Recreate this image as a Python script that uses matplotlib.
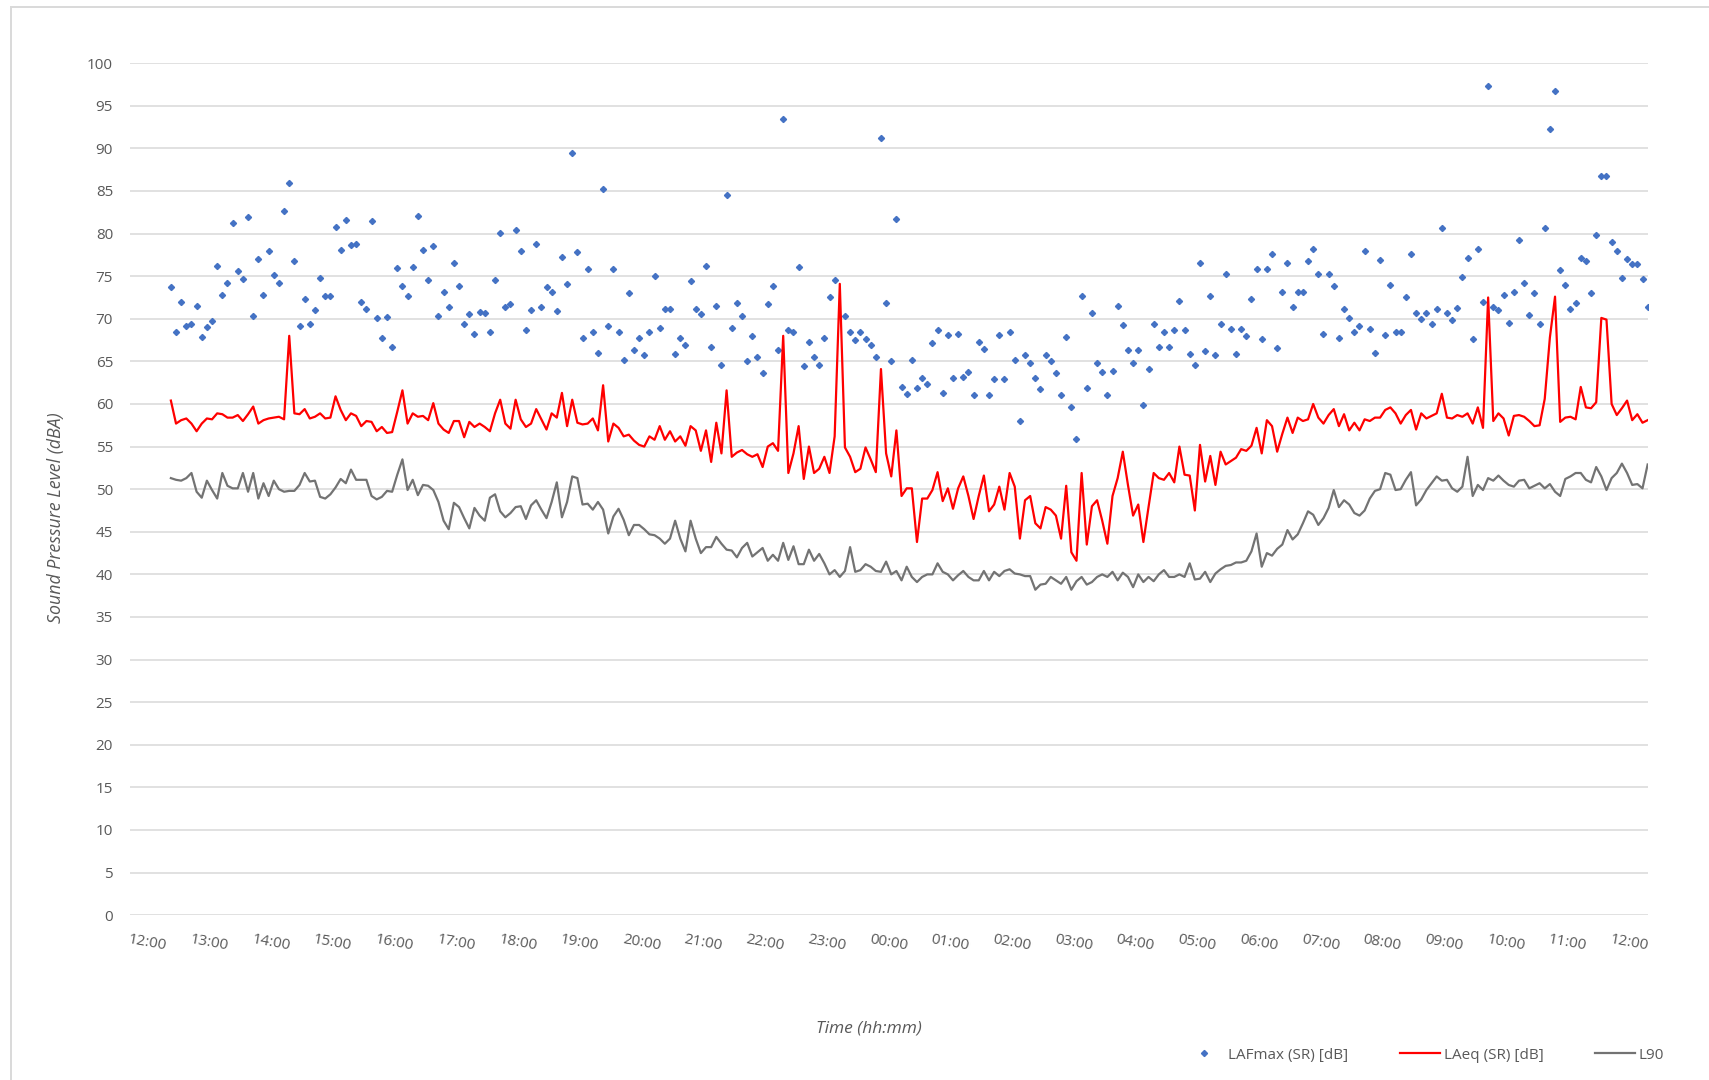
import numpy as np
import pandas as pd
import matplotlib
matplotlib.use("Agg")
import matplotlib.pyplot as plt
import matplotlib.dates as mdates
from matplotlib.patches import Rectangle

# 5-minute readings, one row = one hour
laf_max = [
    73.7, 68.4, 72.0, 69.2, 69.4, 71.5, 67.9, 69.0, 69.7, 76.2, 72.8, 74.2,
    81.2, 75.6, 74.7, 81.9, 70.3, 77.0, 72.8, 77.9, 75.1, 74.2, 82.6, 85.9,
    76.8, 69.2, 72.3, 69.4, 71.0, 74.8, 72.7, 72.7, 80.8, 78.1, 81.6, 78.7,
    78.8, 72.0, 71.1, 81.5, 70.1, 67.8, 70.2, 66.7, 76.0, 73.9, 72.7, 76.1,
    82.1, 78.1, 74.6, 78.6, 70.3, 73.2, 71.4, 76.5, 73.9, 69.4, 70.6, 68.2,
    70.8, 70.7, 68.4, 74.6, 80.1, 71.4, 71.7, 80.4, 77.9, 68.7, 71.0, 78.8,
    71.4, 73.7, 73.1, 70.9, 77.2, 74.1, 89.5, 77.8, 67.8, 75.8, 68.5, 66.0,
    85.2, 69.2, 75.8, 68.5, 65.2, 73.0, 66.3, 67.7, 65.8, 68.5, 75.0, 68.9,
    71.1, 71.1, 65.9, 67.7, 66.9, 74.4, 71.1, 70.6, 76.2, 66.7, 71.5, 64.6,
    84.5, 68.9, 71.8, 70.3, 65.1, 68.0, 65.5, 63.6, 71.7, 73.8, 66.3, 93.5,
    68.7, 68.4, 76.1, 64.5, 67.3, 65.5, 64.6, 67.7, 72.6, 74.6, np.nan, 70.3,
    68.5, 67.5, 68.5, 67.6, 66.9, 65.5, 91.2, 71.9, 65.1, 81.7, 62.0, 61.2,
    65.2, 61.9, 63.0, 62.4, 67.2, 68.7, 61.3, 68.1, 63.0, 68.2, 63.2, 63.8,
    61.0, 67.3, 66.4, 61.1, 62.9, 68.1, 62.9, 68.5, 65.2, 58.0, 65.8, 64.8,
    63.1, 61.8, 65.7, 65.0, 63.6, 61.0, 67.9, 59.7, 55.9, 72.7, 61.9, 70.7,
    64.8, 63.8, 61.0, 63.9, 71.5, 69.3, 66.3, 64.8, 66.3, 59.9, 64.1, 69.4,
    66.7, 68.4, 66.7, 68.7, 72.1, 68.7, 65.9, 64.6, 76.5, 66.2, 72.7, 65.7,
    69.4, 75.2, 68.8, 65.9, 68.8, 68.0, 72.3, 75.9, 67.6, 75.8, 77.6, 66.6,
    73.2, 76.5, 71.4, 73.2, 73.2, 76.8, 78.2, 75.3, 68.2, 75.3, 73.8, 67.8,
    71.2, 70.1, 68.4, 69.1, 77.9, 68.8, 66.0, 76.9, 68.1, 74.0, 68.5, 68.5,
    72.6, 77.6, 70.7, 70.0, 70.7, 69.4, 71.1, 80.7, 70.7, 69.9, 71.3, 74.9,
    77.1, 67.6, 78.2, 72.0, 97.3, 71.4, 71.0, 72.8, 69.5, 73.2, 79.2, 74.2,
    70.4, 73.0, 69.4, 80.6, 92.3, 96.7, 75.7, 74.0, 71.2, 71.8, 77.1, 76.8,
    73.0, 79.8, 86.8, 86.8, 79.0, 77.9, 74.8, 77.0, 76.4, 76.4, 74.7, 71.4,
]

laeq = [
    60.4, 57.7, 58.1, 58.3, 57.7, 56.8, 57.7, 58.3, 58.2, 58.9, 58.8, 58.4,
    58.4, 58.7, 58.0, 58.8, 59.7, 57.7, 58.1, 58.3, 58.4, 58.5, 58.2, 68.0,
    58.9, 58.8, 59.4, 58.3, 58.5, 58.9, 58.3, 58.4, 60.9, 59.3, 58.1, 58.9,
    58.6, 57.4, 58.0, 57.9, 56.8, 57.3, 56.6, 56.7, 59.1, 61.6, 57.7, 58.9,
    58.5, 58.6, 58.1, 60.1, 57.7, 57.0, 56.6, 58.0, 58.0, 56.1, 57.9, 57.3,
    57.7, 57.3, 56.8, 58.9, 60.5, 57.7, 57.1, 60.5, 58.2, 57.3, 57.7, 59.4,
    58.2, 57.0, 58.9, 58.4, 61.3, 57.4, 60.5, 57.8, 57.6, 57.7, 58.3, 56.9,
    62.2, 55.6, 57.7, 57.2, 56.2, 56.4, 55.7, 55.2, 55.0, 56.2, 55.8, 57.4,
    55.8, 56.8, 55.6, 56.2, 55.1, 57.4, 56.9, 54.5, 56.9, 53.2, 57.8, 54.2,
    61.6, 53.8, 54.3, 54.6, 54.1, 53.8, 54.1, 52.6, 55.0, 55.4, 54.5, 68.0,
    51.9, 54.2, 57.4, 51.2, 55.0, 51.9, 52.4, 53.8, 51.9, 56.2, 74.1, 54.9,
    53.8, 52.0, 52.4, 54.9, 53.5, 52.0, 64.1, 54.2, 51.5, 56.9, 49.2, 50.1,
    50.1, 43.8, 48.9, 48.9, 49.9, 52.0, 48.6, 50.1, 47.7, 50.1, 51.5, 49.2,
    46.5, 49.2, 51.6, 47.4, 48.2, 50.3, 47.6, 51.9, 50.3, 44.2, 48.7, 49.2,
    46.0, 45.4, 47.9, 47.6, 46.9, 44.2, 50.4, 42.6, 41.6, 51.9, 43.5, 48.0,
    48.7, 46.3, 43.6, 49.2, 51.3, 54.4, 50.5, 46.9, 48.2, 43.8, 47.9, 51.9,
    51.3, 51.1, 51.9, 50.8, 55.0, 51.7, 51.6, 47.5, 55.2, 50.9, 53.9, 50.5,
    54.4, 52.9, 53.3, 53.7, 54.7, 54.5, 55.1, 57.2, 54.2, 58.1, 57.4, 54.4,
    56.5, 58.4, 56.6, 58.4, 58.0, 58.2, 60.0, 58.4, 57.7, 58.7, 59.4, 57.4,
    58.8, 56.9, 57.8, 56.9, 58.2, 58.0, 58.4, 58.4, 59.3, 59.6, 58.9, 57.7,
    58.7, 59.3, 57.0, 58.9, 58.3, 58.6, 58.9, 61.2, 58.4, 58.3, 58.7, 58.5,
    58.9, 57.7, 59.6, 57.2, 72.5, 58.0, 58.9, 58.3, 56.3, 58.6, 58.7, 58.5,
    58.0, 57.4, 57.5, 60.6, 67.8, 72.6, 57.9, 58.4, 58.5, 58.2, 62.0, 59.6,
    59.5, 60.2, 70.1, 69.9, 60.0, 58.7, 59.5, 60.4, 58.1, 58.8, 57.8, 58.1,
]

l90 = [
    51.3, 51.1, 51.0, 51.3, 51.9, 49.7, 49.0, 51.0, 49.9, 48.9, 51.9, 50.4,
    50.1, 50.1, 51.9, 49.7, 51.9, 48.9, 50.7, 49.2, 51.0, 50.0, 49.7, 49.8,
    49.8, 50.5, 51.9, 50.9, 51.0, 49.1, 48.9, 49.4, 50.2, 51.2, 50.7, 52.3,
    51.1, 51.1, 51.1, 49.2, 48.8, 49.1, 49.8, 49.7, 51.7, 53.5, 49.9, 51.1,
    49.3, 50.5, 50.4, 49.9, 48.5, 46.3, 45.3, 48.4, 47.9, 46.6, 45.4, 47.8,
    46.9, 46.3, 49.0, 49.4, 47.4, 46.7, 47.2, 47.9, 48.0, 46.5, 48.1, 48.7,
    47.6, 46.6, 48.5, 50.8, 46.7, 48.5, 51.5, 51.3, 48.2, 48.3, 47.6, 48.5,
    47.6, 44.8, 46.8, 47.7, 46.4, 44.6, 45.8, 45.8, 45.3, 44.7, 44.6, 44.2,
    43.6, 44.2, 46.3, 44.2, 42.7, 46.3, 44.2, 42.5, 43.2, 43.2, 44.4, 43.6,
    42.9, 42.8, 42.0, 43.1, 43.7, 42.1, 42.6, 43.1, 41.6, 42.3, 41.6, 43.7,
    41.7, 43.3, 41.2, 41.2, 42.9, 41.6, 42.4, 41.3, 40.0, 40.5, 39.7, 40.4,
    43.2, 40.3, 40.5, 41.2, 40.9, 40.4, 40.3, 41.5, 40.0, 40.4, 39.3, 40.9,
    39.7, 39.1, 39.7, 40.0, 40.0, 41.3, 40.3, 40.0, 39.3, 39.9, 40.4, 39.7,
    39.3, 39.3, 40.4, 39.3, 40.3, 39.8, 40.4, 40.6, 40.1, 40.0, 39.8, 39.8,
    38.2, 38.8, 38.9, 39.7, 39.3, 38.9, 39.7, 38.2, 39.2, 39.7, 38.8, 39.1,
    39.7, 40.0, 39.7, 40.3, 39.3, 40.2, 39.7, 38.5, 40.0, 39.1, 39.7, 39.2,
    40.0, 40.5, 39.7, 39.7, 40.0, 39.7, 41.3, 39.4, 39.5, 40.3, 39.1, 40.1,
    40.6, 41.0, 41.1, 41.4, 41.4, 41.6, 42.7, 44.8, 40.9, 42.5, 42.2, 43.0,
    43.5, 45.2, 44.1, 44.7, 46.0, 47.4, 47.0, 45.8, 46.6, 47.8, 49.9, 47.9,
    48.7, 48.2, 47.2, 46.9, 47.5, 48.9, 49.8, 50.0, 51.9, 51.7, 49.9, 50.0,
    51.1, 52.0, 48.1, 48.8, 49.9, 50.7, 51.5, 51.0, 51.1, 50.1, 49.7, 50.3,
    53.8, 49.2, 50.5, 49.9, 51.3, 51.0, 51.6, 51.0, 50.5, 50.3, 51.0, 51.1,
    50.1, 50.4, 50.7, 50.1, 50.6, 49.7, 49.2, 51.2, 51.5, 51.9, 51.9, 51.1,
    50.8, 52.6, 51.5, 49.9, 51.3, 51.9, 53.0, 51.9, 50.5, 50.6, 50.1, 52.9,
]

times = pd.date_range("2021-06-01 12:40", periods=len(laeq), freq="5min")
hours = pd.date_range("2021-06-01 12:00", "2021-06-02 12:00", freq="1h")

grey_txt = "#595959"
plt.rcParams["font.family"] = ["Open Sans", "DejaVu Sans"]

fig = plt.figure(figsize=(17.09, 10.80), dpi=100)
ax = fig.add_axes([0.0759, 0.1526, 0.8882, 0.7889])

ax.plot(times, laf_max, linestyle="none", marker="D", markersize=3.1,
        color="#4472C4", label="LAFmax (SR) [dB]", zorder=2)
ax.plot(times, laeq, color="#FF0000", linewidth=1.6,
        label="LAeq (SR) [dB]", zorder=3)
ax.plot(times, l90, color="#737373", linewidth=1.6, label="L90", zorder=4)

ax.set_ylim(0, 100)
ax.set_yticks(np.arange(0, 101, 5))
ax.set_xlim(pd.Timestamp("2021-06-01 12:00"), pd.Timestamp("2021-06-02 12:35"))
ax.set_xticks(hours)
ax.xaxis.set_major_formatter(mdates.DateFormatter("%H:%M"))

ax.yaxis.grid(True, color="#D9D9D9", linewidth=1.1)
ax.set_axisbelow(True)
for s in ax.spines.values():
    s.set_visible(False)
ax.tick_params(axis="both", length=0, labelsize=11, labelcolor=grey_txt)
ax.tick_params(axis="y", pad=12)
ax.tick_params(axis="x", pad=12)
plt.setp(ax.get_xticklabels(), rotation=-10, ha="left", va="top",
         rotation_mode="anchor")

fig.text(0.0325, 0.5204, "Sound Pressure Level (dBA)", rotation=90,
         ha="center", va="center", fontsize=12.8, style="italic", color=grey_txt)
fig.text(0.5085, 0.0481, "Time (hh:mm)", ha="center", va="center",
         fontsize=12.5, style="italic", color=grey_txt)

leg = fig.legend(loc="center", bbox_to_anchor=(0.8335, 0.023), ncol=3,
                 frameon=False, fontsize=11, handlelength=2.6,
                 handletextpad=0.25, columnspacing=3.4, markerscale=1.0)
for t in leg.get_texts():
    t.set_color(grey_txt)

# outer chart frame (cropped on the right and bottom)
fig.add_artist(Rectangle((11 / 1709, -0.05), 1.2, 1 - 7 / 1080 + 0.05,
                         transform=fig.transFigure, fill=False,
                         edgecolor="#D9D9D9", linewidth=1.4))

fig.savefig("out.png", dpi=100)
